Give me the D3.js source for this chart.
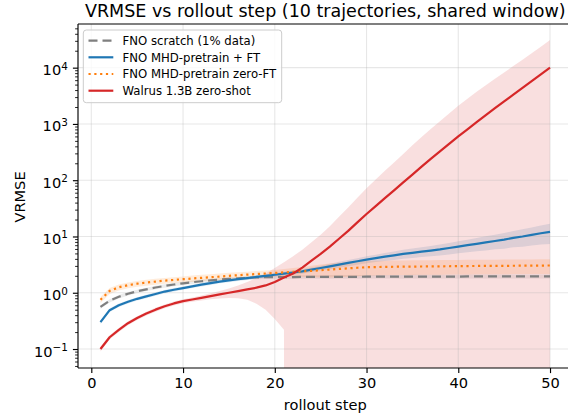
<!DOCTYPE html>
<html><head><meta charset="utf-8">
<script src="https://cdn.jsdelivr.net/npm/d3@7"></script>
<style>
html,body{margin:0;padding:0;background:#fff;}
svg{display:block;font-family:"DejaVu Sans",sans-serif;}
</style></head>
<body><svg id="c" width="568" height="417"></svg>
<script>
// ---- data ----
const steps = [1,2,3,4,5,6,7,8,9,10,11,12,13,14,15,16,17,18,19,20,21,22,23,24,25,26,27,28,29,30,31,32,33,34,35,36,37,38,39,40,41,42,43,44,45,46,47,48,49,50];

const scratchMean = [0.56,0.72,0.85,0.96,1.06,1.15,1.24,1.32,1.40,1.47,1.54,1.60,1.66,1.71,1.76,1.80,1.84,1.87,1.89,1.90,
  1.90,1.90,1.91,1.91,1.91,1.92,1.92,1.92,1.92,1.93,1.93,1.93,1.93,1.93,1.94,1.94,1.94,1.94,1.94,1.94,
  1.95,1.95,1.95,1.95,1.95,1.95,1.95,1.95,1.95,1.95];
const scratchStd = [0.039,0.050,0.060,0.067,0.074,0.081,0.087,0.092,0.098,0.103,0.108,0.112,0.116,0.120,0.123,0.126,0.129,0.131,0.132,0.133,
  0.135,0.136,0.137,0.138,0.139,0.140,0.141,0.142,0.143,0.144,0.145,0.146,0.147,0.148,0.149,0.150,0.151,0.152,0.153,0.154,
  0.155,0.155,0.156,0.156,0.157,0.157,0.158,0.158,0.159,0.160];

const ftMean = [0.30,0.49,0.60,0.69,0.78,0.86,0.95,1.05,1.13,1.21,1.30,1.39,1.48,1.58,1.66,1.74,1.82,1.91,2.00,2.09,
  2.19,2.29,2.40,2.57,2.75,2.95,3.16,3.39,3.63,3.89,4.12,4.37,4.62,4.90,5.13,5.37,5.62,5.89,6.24,6.61,
  7.00,7.41,7.85,8.32,8.81,9.44,10.0,10.7,11.4,12.1];
const ftStd = [0.021,0.034,0.042,0.048,0.055,0.060,0.066,0.074,0.079,0.085,0.091,0.097,0.104,0.111,0.116,0.122,0.127,0.134,0.140,0.146,
  0.175,0.195,0.216,0.244,0.275,0.325,0.379,0.424,0.472,0.545,0.618,0.699,0.785,0.882,0.975,1.07,1.18,1.30,1.44,1.59,
  1.75,1.96,2.20,2.41,2.73,3.02,3.40,3.80,4.22,4.72];

const zeroFtMean = [0.75,1.08,1.25,1.36,1.45,1.52,1.58,1.64,1.69,1.74,1.79,1.84,1.89,1.94,2.00,2.05,2.10,2.15,2.20,2.25,
  2.30,2.35,2.40,2.45,2.52,2.58,2.65,2.72,2.78,2.84,2.86,2.88,2.90,2.91,2.92,2.93,2.94,2.95,2.96,2.97,
  2.98,2.99,3.00,3.00,3.01,3.02,3.03,3.03,3.04,3.05];
const zeroFtStd = [0.090,0.130,0.150,0.163,0.174,0.182,0.190,0.197,0.203,0.209,0.233,0.239,0.246,0.252,0.260,0.267,0.273,0.280,0.286,0.293,
  0.345,0.400,0.480,0.564,0.655,0.722,0.755,0.789,0.806,0.824,0.829,0.835,0.841,0.844,0.847,0.850,0.853,0.856,0.858,0.861,
  0.864,0.867,0.870,0.870,0.873,0.876,0.879,0.879,0.882,0.885];

const walrusMean = [0.100,0.162,0.219,0.288,0.355,0.427,0.501,0.575,0.646,0.708,0.759,0.813,0.871,0.933,1.00,1.07,1.15,1.23,1.35,1.55,
  1.86,2.20,2.80,3.72,4.90,6.61,9.12,12.6,17.8,25.1,34.7,47.9,66.1,91.2,126,174,240,324,442,603,
  804,1072,1429,1905,2512,3311,4365,5754,7586,10000];
const walrusStd = [0.010,0.013,0.018,0.023,0.028,0.034,0.040,0.046,0.052,0.057,0.068,0.081,0.105,0.140,0.19,0.27,0.40,0.59,0.85,1.21,
  1.64,2.27,3.02,4.17,5.88,8.6,13.2,20.2,31.2,47.2,68.7,98.7,141,201,290,411,576,791,1087,1495,
  2010,2648,3430,4439,5702,7350,9516,12314,16006,20900];

const seriesNames = ["FNO scratch (1% data)","FNO MHD-pretrain + FT","FNO MHD-pretrain zero-FT","Walrus 1.3B zero-shot"];
const xTicks = [0,10,20,30,40,50];
const yTicks = [0.1,1,10,100,1000,10000];
const yTickExp = ["\u22121","0","1","2","3","4"];

// ---- layout ----
const L=78, R=572.5, T=24, B=368;
const svg = d3.select("#c");
const x = d3.scaleLinear().domain([-1.45,52.45]).range([L,R]);
const y = d3.scaleLog().domain([0.046,59700]).range([B,T]);

const series = [
  {mean:scratchMean, std:scratchStd, color:"#7f7f7f", dash:"9,5", name:seriesNames[0]},
  {mean:ftMean, std:ftStd, color:"#1f77b4", dash:null, name:seriesNames[1]},
  {mean:zeroFtMean, std:zeroFtStd, color:"#ff7f0e", dash:"2.2,3.6", name:seriesNames[2]},
  {mean:walrusMean, std:walrusStd, color:"#d62728", dash:null, name:seriesNames[3]}
];

svg.append("defs").append("clipPath").attr("id","clip")
  .append("rect").attr("x",L).attr("y",T).attr("width",R-L).attr("height",B-T);

const plot = svg.append("g").attr("clip-path","url(#clip)");

// bands (mean ± std)
series.forEach(s=>{
  const pts = steps.map((st,i)=>({s:st, lo:s.mean[i]-s.std[i], hi:s.mean[i]+s.std[i]}));
  const area = d3.area()
    .x(d=>x(d.s))
    .y0(d=> d.lo>0 ? y(d.lo) : B+5000)
    .y1(d=>y(d.hi));
  plot.append("path").attr("d",area(pts)).attr("fill",s.color).attr("fill-opacity",0.15);
});

// grid
const grid = plot.append("g");
xTicks.forEach(t=>grid.append("line").attr("x1",x(t)).attr("x2",x(t)).attr("y1",T).attr("y2",B)
  .attr("stroke","#b0b0b0").attr("stroke-opacity",0.3).attr("stroke-width",1.1));
yTicks.forEach(t=>grid.append("line").attr("x1",L).attr("x2",R).attr("y1",y(t)).attr("y2",y(t))
  .attr("stroke","#b0b0b0").attr("stroke-opacity",0.3).attr("stroke-width",1.1));

// lines
series.forEach(s=>{
  const line = d3.line().x((d,i)=>x(steps[i])).y(d=>y(d));
  const p = plot.append("path").attr("d",line(s.mean)).attr("fill","none")
    .attr("stroke",s.color).attr("stroke-width",2.2).attr("stroke-linejoin","round");
  if(s.dash) p.attr("stroke-dasharray",s.dash);
});

// axes
const xAxis = d3.axisBottom(x).tickValues(xTicks).tickSize(5.1).tickPadding(4.5).tickFormat(d3.format("d"));
const gx = svg.append("g").attr("transform",`translate(0,${B})`).call(xAxis);
gx.select(".domain").remove();
gx.selectAll(".tick line").attr("stroke","#000").attr("stroke-width",1.15);
gx.selectAll(".tick text").attr("font-size",14.6).attr("fill","#000").attr("font-family","DejaVu Sans");

// minor y ticks
const minor = [];
[-2,-1,0,1,2,3,4].forEach(e=>{ for(let k=2;k<=9;k++){ const v=k*Math.pow(10,e); if(v>0.046 && v<59700) minor.push(v);} });
const gyMinor = svg.append("g").attr("transform",`translate(${L},0)`)
  .call(d3.axisLeft(y).tickValues(minor).tickSize(2.9).tickFormat(""));
gyMinor.select(".domain").remove();
gyMinor.selectAll(".tick line").attr("stroke","#000").attr("stroke-width",0.85);

const gy = svg.append("g").attr("transform",`translate(${L},0)`)
  .call(d3.axisLeft(y).tickValues(yTicks).tickSize(5.1).tickFormat(""));
gy.select(".domain").remove();
gy.selectAll(".tick line").attr("stroke","#000").attr("stroke-width",1.15);
gy.selectAll(".tick").each(function(d,i){
  const t = d3.select(this).append("text").attr("x",-10.2).attr("y",7).attr("text-anchor","end")
    .attr("font-size",14.6).attr("fill","#000").attr("font-family","DejaVu Sans");
  t.append("tspan").text("10");
  t.append("tspan").attr("dy",-5.5).attr("font-size",10.4).text(yTickExp[yTicks.indexOf(d)]);
});

// spines
const sp = svg.append("g").attr("stroke","#000").attr("stroke-width",1.15).attr("fill","none");
sp.append("line").attr("x1",L).attr("x2",L).attr("y1",T).attr("y2",B);
sp.append("line").attr("x1",L).attr("x2",R).attr("y1",B).attr("y2",B);
sp.append("line").attr("x1",L).attr("x2",R).attr("y1",T).attr("y2",T);
sp.append("line").attr("x1",R).attr("x2",R).attr("y1",T).attr("y2",B);

// labels
svg.append("text").attr("x",(L+R)/2).attr("y",409.5).attr("text-anchor","middle")
  .attr("font-size",14.6).attr("fill","#000").text("rollout step");
svg.append("text").attr("transform",`translate(25,197) rotate(-90)`).attr("text-anchor","middle")
  .attr("font-size",14.6).attr("fill","#000").text("VRMSE");
svg.append("text").attr("x",(L+R)/2).attr("y",16.5).attr("text-anchor","middle")
  .attr("font-size",17.5).attr("fill","#000").text("VRMSE vs rollout step (10 trajectories, shared window)");

// legend
const lg = svg.append("g");
lg.append("rect").attr("x",83.3).attr("y",30).attr("width",198.4).attr("height",72.7).attr("rx",3)
  .attr("fill","#fff").attr("fill-opacity",0.8).attr("stroke","#cccccc").attr("stroke-width",1);
const rowY = [40.7,57.3,74.0,90.7];
series.forEach((s,i)=>{
  const ln = lg.append("line").attr("x1",88.5).attr("x2",113.3).attr("y1",rowY[i]).attr("y2",rowY[i])
    .attr("stroke",s.color).attr("stroke-width",2.2);
  if(s.dash) ln.attr("stroke-dasharray",s.dash);
  lg.append("text").attr("x",122.5).attr("y",rowY[i]+4.2).attr("font-size",11.7).attr("fill","#000").text(s.name);
});
</script></body></html>
